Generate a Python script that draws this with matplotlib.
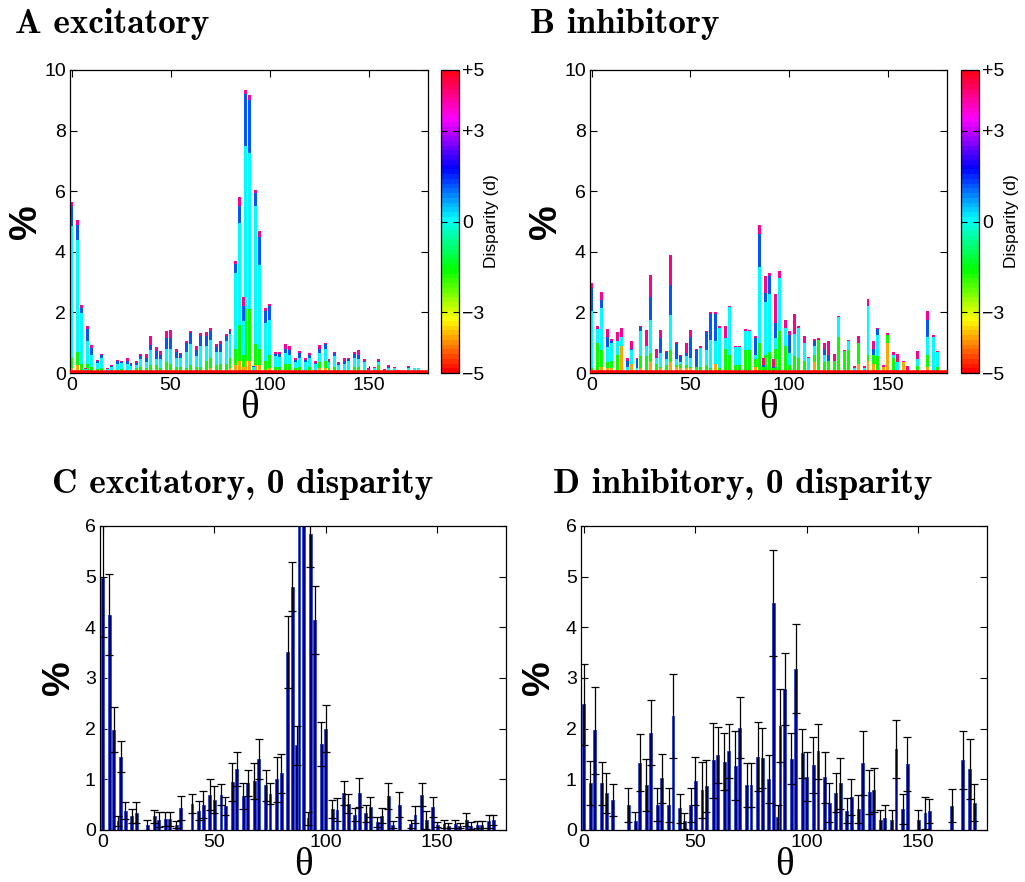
import numpy as np
import matplotlib
matplotlib.use("Agg")
import matplotlib.pyplot as plt
from matplotlib.colors import ListedColormap, Normalize
from matplotlib.cm import ScalarMappable

plt.rcParams['font.family'] = ['Liberation Sans', 'DejaVu Sans']
plt.rcParams['mathtext.fontset'] = 'cm'

# orientation bins (degrees)
theta = [0, 3, 5, 7, 8, 10, 13, 15, 18, 20, 23, 25, 28, 30, 33, 35, 38, 40, 43, 45,
         48, 50, 53, 55, 58, 60, 63, 65, 68, 70, 73, 75, 78, 80, 83, 85, 87, 88, 90, 92,
         93, 95, 98, 100, 103, 105, 108, 110, 113, 115, 118, 120, 123, 125, 128, 130, 133, 135, 138, 140,
         143, 145, 148, 150, 153, 155, 158, 160, 163, 165, 168, 170, 173, 175, 178]

# ---- excitatory: % of units per orientation, split by disparity group ----
# groups: d<=-3 (warm), -3<d<0 (green), d=0 (cyan), 0<d<3 (blue), d>=3 (magenta)
exc_warm = [.15, .25, .1, .03, .1, .05, .04, .05, .02, .02, .03, .04, .03, .03, .05, .08, .05, .08, .08, .05,
            .1, .1, .07, .07, .05, .08, .07, .07, .1, .15, .08, .1, .1, .15, .25, .4, .2, .4, .4, .02,
            .25, .25, .1, .15, .07, .07, .1, .1, .05, .07, .03, .07, .03, .15, .15, .05, .07, .03, .03, .03,
            .07, .07, .03, .02, .02, .1, .01, .02, .02, .01, .01, .02, .01, .01, .01]
exc_green = [.35, .45, .2, .05, .2, .15, .08, .1, .03, .03, .07, .08, .07, .05, .1, .12, .1, .17, .17, .1,
             .25, .2, .13, .13, .1, .17, .13, .13, .3, .35, .17, .2, .2, .35, .55, 1.2, .4, 1.7, 1.7, .03,
             .7, .55, .3, .45, .13, .13, .2, .2, .1, .13, .07, .13, .07, .2, .25, .1, .13, .07, .07, .07,
             .13, .13, .07, .02, .03, .15, .02, .03, .03, .02, .01, .03, .02, .02, .01]
exc_zero = [4.34, 3.7, 1.68, .05, .74, .4, .2, .35, .08, .14, .2, .2, .2, .15, .1, .25, .2, .5, .2, .3,
            .45, .5, .3, .3, .55, .7, .35, .7, .5, .6, .45, .4, .75, .8, 2.5, 3.35, 1.1, 5.4, 5.15, .15,
            4.55, 2.75, 1.25, 1.15, .35, .32, .35, .3, .2, .3, .25, .3, .2, .3, .4, .2, .35, .17, .2, .3,
            .3, .25, .25, .07, .1, .1, .05, .12, .1, .04, .03, .1, .12, .12, .02]
exc_blue = [.68, .5, .17, 0, .42, .23, .08, .1, 0, .05, .08, .05, .1, .06, .08, .1, .13, .16, .28, .15,
            .37, .36, .2, .12, .28, .36, .2, .32, .32, .3, .17, .26, .17, .1, .31, .55, .5, 1.7, 1.77, .02,
            .45, .95, .4, .45, .08, .1, .15, .15, .08, .15, .08, .1, .04, .15, .15, .06, .1, .04, .1, .06,
            .12, .15, .05, 0, .02, .05, 0, .03, .02, 0, 0, .04, 0, 0, 0]
exc_far = [.14, .15, .08, .02, .08, .1, .04, .04, .03, .03, .06, .04, .1, .04, .05, .08, .15, .3, .13, .11,
           .2, .25, .09, .04, .06, .06, .13, .1, .14, .1, .1, .08, .08, .06, .1, .32, .3, .14, .17, .02,
           .1, .2, .1, .07, .07, .08, .15, .15, .07, .08, .07, .07, .04, .12, .05, .04, .05, .04, .1, .04,
           .08, .15, .05, .04, .03, .05, .04, .05, .03, .03, .02, .03, .03, .03, .01]

# ---- inhibitory ----
inh_warm = [.05, .1, .2, 0, .15, .15, .1, .9, .05, .3, .05, .15, .05, .35, .05, .15, .05, .35, .2, .15,
            .15, .15, .05, .05, 0, 0, .3, .05, .1, .1, .05, .05, .05, .05, .2, .1, .1, .05, .05, .05,
            0, 0, .05, .05, .05, 0, .05, 0, .35, .1, .1, .05, .05, .05, 0, .05, .02, .3, .02, .4,
            .3, .1, .2, 1.0, .1, .05, .35, .02, 0, .02, 0, .2, .05, .05, 0]
inh_green = [.1, .9, .55, 0, .2, .25, .5, 0, 0, 0, 0, .4, .5, .3, .25, .05, .2, .4, .05, .15,
             .1, .05, .15, .15, .25, .15, 0, .1, .7, .5, .2, .2, .7, .7, .25, .9, .1, .55, .65, .1,
             .8, 1.4, .85, .2, .5, .5, .35, .05, .25, 1.0, .25, .35, .35, 1.15, .72, .7, 0, .7, 0, .2,
             .3, .45, 0, .25, .4, 0, 0, 0, 0, .2, 0, .4, 0, .15, 0]
inh_zero = [1.9, .45, 1.4, 0, .5, .6, .45, .3, .15, .45, .1, .85, .35, 1.1, .2, .45, .2, 1.15, .2, .05,
            .3, .3, 0, .62, .5, .95, .75, 1.35, .35, 1.58, .62, .62, .65, .62, .15, 2.5, 0, 1.75, 1.9, 0,
            .35, 1.75, .6, .4, .75, 1.0, .6, .45, .3, 0, .25, 0, 0, .65, 0, .3, .15, 0, .15, 1.6,
            0, .7, 0, 0, .1, .3, 0, 0, 0, .25, 0, .6, 1.15, .5, 0]
inh_blue = [.75, 0, .27, 0, .35, .05, 0, 0, .2, .05, .3, .12, 0, .75, 0, .5, .25, 1.0, .5, .2,
            .1, .7, .55, 0, .6, .85, .9, 0, 0, 0, 0, 0, 0, 0, .55, 1.1, .05, .3, .6, .05,
            .5, 0, 0, .6, 0, 0, 0, 0, .15, 0, .2, .2, 0, 0, 0, 0, 0, 0, 0, 0,
            .2, .2, 0, 0, 0, 0, 0, 0, 0, 0, 0, .55, 0, 0, 0]
inh_far = [.17, .09, .25, 0, .25, .07, .3, .28, .1, .27, .05, .02, .53, .74, .29, .26, .04, .98, .06, .05,
           .34, .23, .04, .06, .05, .06, .06, .04, .39, .04, .03, .03, .05, .05, .08, .29, .25, .56, .1, .25,
           .95, .23, .26, .12, .66, .04, .23, .03, .07, .05, .2, .47, .23, .04, .05, .03, .05, .23, .05, .24,
           .24, .03, .05, .07, .1, .28, .05, .2, 0, .25, 0, .29, .05, .04, 0]

# ---- zero-disparity units: mean % and error ----
exc0_mean = [4.98, 4.25, 1.98, .17, 1.45, .38, .28, .34, 0, .1, .27, .2, .22, .22, .1, .43, 0, .52, .38, .5,
             .7, .6, .7, .47, .95, 1.2, .67, .93, .97, 1.4, .88, .72, 1.0, 1.12, 3.52, 4.8, 1.67, 7.4, 7.2, .23,
             5.85, 4.15, 1.7, 2.0, .42, .4, .73, .52, .3, .74, .33, .45, .15, .28, .67, .1, .5, 0, .12, .3,
             .7, .2, .45, .1, .12, .08, .12, .08, .2, .08, .1, .1, .17, .2, 0]
exc0_err = [1.18, .8, .45, .1, .31, .17, .14, .21, 0, .1, .13, .15, .14, .14, .07, .24, 0, .19, .19, .27,
            .31, .27, .2, .18, .38, .33, .25, .26, .36, .4, .31, .21, .45, .38, .71, .48, .39, .8, .8, .13,
            .65, .67, .43, .46, .18, .23, .23, .19, .13, .29, .17, .2, .1, .15, .25, .07, .25, 0, .08, .17,
            .23, .18, .2, .05, .08, .05, .08, .05, .13, .07, .07, .07, .13, .1, 0]
inh0_mean = [2.48, .93, 1.97, 0, .92, .73, .59, 0, 0, .49, .18, 1.33, .89, 1.92, .5, 1.02, .49, 2.25, .43, .17,
             .49, .97, .79, .87, 1.38, 1.48, 1.35, 1.56, 1.27, 2.02, .89, .89, 1.45, 1.42, 1.01, 4.48, .25, 2.06, 2.78, 0,
             1.41, 3.18, 1.51, 1.05, 1.29, 1.55, 1.04, .54, .74, .92, .38, .65, .42, 1.33, .75, .79, .2, .24, .2, 1.6,
             .42, 1.3, 0, .2, .33, .38, 0, 0, 0, .48, 0, 1.38, 1.2, .54, 0]
inh0_err = [.8, .44, .86, 0, .43, .4, .32, 0, 0, .33, .18, .56, .51, .64, .33, .48, .34, .83, .29, .16,
            .34, .47, .55, .52, .74, .55, .56, .53, .68, .6, .43, .43, .69, .6, .47, 1.05, .25, .72, .71, 0,
            .5, .88, .49, .48, .55, .54, .5, .38, .39, .5, .25, .36, .28, .63, .44, .44, .2, .25, .2, .58,
            .3, .54, 0, .2, .32, .24, 0, 0, 0, .33, 0, .57, .59, .36, 0]

disp_ticks = [-5, -3, 0, 3, 5]
disp_labels = ['\u22125', '\u22123', '0', '+3', '+5']

W, H = 1025, 882
fig = plt.figure(figsize=(W / 100, H / 100), dpi=100)

def frac(l, t, r, b):
    return [l / W, 1 - b / H, (r - l) / W, (b - t) / H]

cmap = ListedColormap(plt.get_cmap('hsv')(np.linspace(0, 1, 64)))
norm = Normalize(-5, 5)
group_d = [-3.9, -1.6, 0.0, 1.1, 4.1]
group_col = [cmap(norm(d)) for d in group_d]

TICK_FS = 14

def style_axes(ax, ylab_pad):
    ax.tick_params(direction='in', top=True, right=True, length=5, width=0.8,
                   labelsize=TICK_FS, pad=3)
    for s in ax.spines.values():
        s.set_linewidth(0.9)
    ax.set_xticks([0, 50, 100, 150])
    ax.set_xlabel('\u03b8', fontsize=28, family='Liberation Serif', labelpad=-3)
    ax.set_ylabel('%', fontsize=28, fontweight='bold', labelpad=ylab_pad)

def stacked(ax, groups):
    x = np.array(theta, dtype=float)
    bottom = np.zeros(len(theta))
    for vals, col in zip(groups, group_col):
        v = np.array(vals, dtype=float)
        ax.bar(x, v, width=1.5, bottom=bottom, color=col, linewidth=0, zorder=2)
        bottom += v
    ax.axhline(0, color=cmap(0.0), lw=4, zorder=3)
    ax.set_xlim(-0.8, 180)
    ax.set_ylim(0, 10)
    ax.set_yticks([0, 2, 4, 6, 8, 10])
    style_axes(ax, 0)

def colorbar(cax):
    cb = fig.colorbar(ScalarMappable(norm=norm, cmap=cmap), cax=cax)
    cb.set_ticks(disp_ticks)
    cb.set_ticklabels(disp_labels, fontsize=14)
    cb.outline.set_linewidth(0.9)
    cax.tick_params(direction='in', left=True, right=True, length=4, width=0.8, pad=2)
    cb.set_label('Disparity (d)', fontsize=12.5, labelpad=0)

def zero_panel(ax, mean, err):
    x = np.array(theta, dtype=float)
    m = np.array(mean, dtype=float)
    e = np.array(err, dtype=float)
    ax.bar(x, m, width=1.3, color='#00008a', edgecolor='#3a4fc8', linewidth=0.7, zorder=2)
    keep = m > 0
    ax.errorbar(x[keep], m[keep], yerr=e[keep], fmt='none', ecolor='black',
                elinewidth=0.9, capsize=3.2, capthick=0.9, zorder=3)
    ax.set_xlim(-1.25, 180.8)
    ax.set_ylim(0, 6)
    ax.set_yticks(range(7))
    style_axes(ax, 6)

axA = fig.add_axes(frac(70, 70, 428, 373))
stacked(axA, [exc_warm, exc_green, exc_zero, exc_blue, exc_far])
colorbar(fig.add_axes(frac(441, 70, 459, 373)))

axB = fig.add_axes(frac(590, 70, 947, 373))
stacked(axB, [inh_warm, inh_green, inh_zero, inh_blue, inh_far])
colorbar(fig.add_axes(frac(961, 70, 979, 373)))

axC = fig.add_axes(frac(100, 526, 506, 830))
zero_panel(axC, exc0_mean, exc0_err)

axD = fig.add_axes(frac(581, 526, 987, 830))
zero_panel(axD, inh0_mean, inh0_err)

titles = [(15, 33, 'A excitatory'),
          (530, 33, 'B inhibitory'),
          (52, 493, 'C excitatory, 0 disparity'),
          (553, 493, 'D inhibitory, 0 disparity')]
for px, py, s in titles:
    fig.text(px / W, 1 - py / H, s, fontsize=25.4, family='cmb10', ha='left', va='baseline')

fig.savefig('out.png', dpi=100)
